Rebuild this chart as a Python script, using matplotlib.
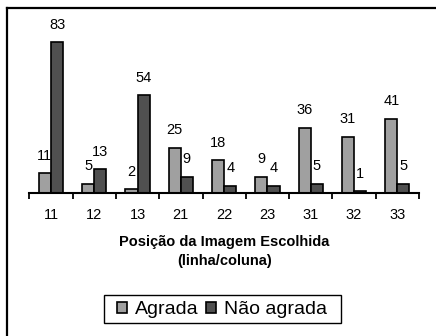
import matplotlib
matplotlib.use("Agg")
import matplotlib.pyplot as plt
from matplotlib.lines import Line2D
from matplotlib.patches import Rectangle
import numpy as np

categories = ["11", "12", "13", "21", "22", "23", "31", "32", "33"]
agrada = [11, 5, 2, 25, 18, 9, 36, 31, 41]
nao_agrada = [83, 13, 54, 9, 4, 4, 5, 1, 5]
series_names = ["Agrada", "Não agrada"]
xlabel = "Posição da Imagem Escolhida\n(linha/coluna)"

plt.rcParams['font.family'] = ['Liberation Sans', 'DejaVu Sans']

W, H = 436, 336
fig = plt.figure(figsize=(W / 100, H / 100), dpi=100)
ax = fig.add_axes([29.3 / W, 143 / H, (419 - 29.3) / W, 181.5 / H])

x = np.arange(len(categories))
w = 0.28
b1 = ax.bar(x - w / 2, agrada, w, color='#a0a0a0', edgecolor='black', linewidth=1.2, label=series_names[0])
b2 = ax.bar(x + w / 2, nao_agrada, w, color='#505050', edgecolor='black', linewidth=1.2, label=series_names[1])

for bars, vals in ((b1, agrada), (b2, nao_agrada)):
    for r, v in zip(bars, vals):
        ax.annotate(str(v), (r.get_x() + r.get_width() / 2, v), xytext=(0, 9.7),
                    textcoords='offset points', ha='center', va='baseline', fontsize=10.5)

ax.set_xlim(-0.5, len(categories) - 0.5)
ax.set_ylim(0, 100)
ax.set_xticks(x)
ax.set_xticklabels(categories, fontsize=10.5)
ax.set_xticks(np.arange(-0.5, len(categories)), minor=True)
ax.tick_params(axis='x', which='major', length=0, pad=11)
ax.tick_params(axis='x', which='minor', length=4, width=1.3, direction='out', color='black')
ax.set_yticks([])
for s in ('top', 'right', 'left'):
    ax.spines[s].set_visible(False)
ax.spines['bottom'].set_linewidth(1.5)
ax.patch.set_alpha(0)

ax.set_xlabel(xlabel, fontsize=10.5, fontweight='bold', linespacing=1.5, labelpad=9)

leg = fig.legend(handles=[b1, b2], labels=series_names, loc='center',
                 bbox_to_anchor=(221.7 / W, 26.5 / H), ncol=2, fontsize=14,
                 frameon=False, handlelength=0.52, handleheight=0.5,
                 handletextpad=0.4, columnspacing=0.4, borderpad=0.0, borderaxespad=0)
fig.add_artist(Rectangle((104 / W, (H - 323) / H), (341 - 104) / W, 28 / H,
                         transform=fig.transFigure, fill=False, edgecolor='black', linewidth=1.0))

fig.add_artist(Line2D([6.5 / W, 1.0], [1 - 7.5 / H, 1 - 7.5 / H], transform=fig.transFigure, color='black', linewidth=1.6))
fig.add_artist(Line2D([6.5 / W, 6.5 / W], [0, 1 - 7.5 / H], transform=fig.transFigure, color='black', linewidth=1.6))

fig.savefig("out.png", dpi=100)
